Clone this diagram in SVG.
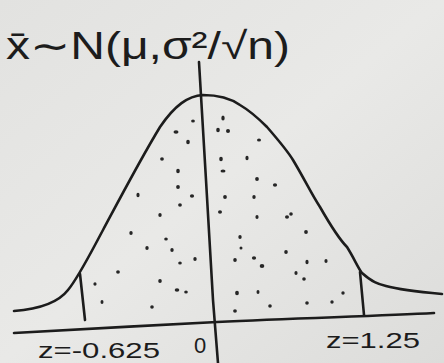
<svg xmlns="http://www.w3.org/2000/svg" width="444" height="363" viewBox="0 0 444 363">
<style>
.ink{fill:none;stroke:#1c1c1c;stroke-width:2.6;stroke-linecap:round;stroke-linejoin:round}
.lbl{font-family:"Liberation Sans","DejaVu Sans",sans-serif;fill:#1c1c1c}
.dot{fill:#262626}
</style>
<defs>
<linearGradient id="bg" x1="0" y1="0" x2="1" y2="1">
<stop offset="0" stop-color="#e2e2e0"/>
<stop offset="0.5" stop-color="#e9e9e7"/>
<stop offset="1" stop-color="#dcdcda"/>
</linearGradient>
</defs>
<rect width="444" height="363" fill="url(#bg)"/>
<g id="title">
<text class="lbl" x="6" y="59" font-size="38" textLength="284" lengthAdjust="spacingAndGlyphs">x̄∼N(μ,σ²/√n)</text>
</g>
<g id="curve">
<path class="ink" d="M14,311 C40,309 58,303 68,290 C78,278 88,258 103,230 C118,202 140,160 160,127 C175,105 188,96 203,95 C218,95 230,98 240,105 C252,112 260,120 267,127 C280,142 290,155 293,160 C305,180 312,195 320,207 C332,228 340,240 347,247 C354,258 358,268 362,273 C372,282 378,284 386,286 C400,290 420,292 442,294"/>
</g>
<g id="connectors">
<path class="ink" d="M199,62 L206,180 L213,300 L218,363"/>
<path class="ink" d="M80,274 L85,320"/>
<path class="ink" d="M360,272 L364,315"/>
<path class="ink" d="M14,333 C80,330 150,325 217,322 C300,318 380,316 434,313"/>
</g>
<g id="shading">
<g class="dot">
<ellipse cx="193" cy="121" rx="1.9" ry="1.6"/><ellipse cx="176" cy="132" rx="2.5" ry="1.7"/><ellipse cx="188" cy="142" rx="1.8" ry="2.3"/>
<ellipse cx="223" cy="118" rx="1.7" ry="2.5"/><ellipse cx="218" cy="130" rx="1.8" ry="2.3"/><ellipse cx="228" cy="131" rx="2" ry="2"/>
<ellipse cx="259" cy="140" rx="2" ry="1.5"/><ellipse cx="162" cy="159" rx="1.9" ry="1.7"/><ellipse cx="178" cy="171" rx="1.8" ry="2.3"/>
<ellipse cx="221" cy="159" rx="1.8" ry="2.3"/><ellipse cx="223" cy="171" rx="2.5" ry="1.6"/><ellipse cx="247" cy="158" rx="1.6" ry="2.2"/>
<ellipse cx="257" cy="179" rx="1.9" ry="1.9"/><ellipse cx="275" cy="185" rx="2.1" ry="1.7"/><ellipse cx="178" cy="187" rx="1.9" ry="1.9"/>
<ellipse cx="192" cy="196" rx="2.1" ry="1.8"/><ellipse cx="138" cy="195" rx="1.6" ry="2.2"/><ellipse cx="180" cy="205" rx="1.9" ry="1.8"/>
<ellipse cx="225" cy="197" rx="1.9" ry="1.9"/><ellipse cx="254" cy="197" rx="1.7" ry="2"/><ellipse cx="220" cy="212" rx="2" ry="1.7"/>
<ellipse cx="160" cy="215" rx="1.7" ry="2.1"/><ellipse cx="257" cy="217" rx="1.6" ry="1.9"/><ellipse cx="287" cy="217" rx="2" ry="1.8"/>
<ellipse cx="291" cy="214" rx="1.8" ry="1.8"/><ellipse cx="131" cy="233" rx="1.7" ry="2"/><ellipse cx="166" cy="239" rx="1.8" ry="1.5"/>
<ellipse cx="240" cy="237" rx="1.7" ry="2.1"/><ellipse cx="306" cy="232" rx="1.9" ry="2.1"/><ellipse cx="147" cy="248" rx="1.7" ry="1.9"/>
<ellipse cx="172" cy="250" rx="1.7" ry="2.1"/><ellipse cx="195" cy="259" rx="1.7" ry="2.1"/><ellipse cx="241" cy="248" rx="1.5" ry="1.5"/>
<ellipse cx="235" cy="260" rx="1.8" ry="2.1"/><ellipse cx="254" cy="258" rx="2.1" ry="1.7"/><ellipse cx="262" cy="266" rx="2.3" ry="2.1"/>
<ellipse cx="286" cy="252" rx="1.8" ry="2.1"/><ellipse cx="307" cy="262" rx="1.6" ry="2.2"/><ellipse cx="326" cy="261" rx="1.6" ry="1.9"/>
<ellipse cx="180" cy="263" rx="1.8" ry="1.6"/><ellipse cx="118" cy="272" rx="1.9" ry="1.7"/><ellipse cx="95" cy="284" rx="1.6" ry="1.8"/>
<ellipse cx="160" cy="281" rx="1.8" ry="1.9"/><ellipse cx="177" cy="290" rx="2.3" ry="1.8"/><ellipse cx="186" cy="292" rx="1.8" ry="1.6"/>
<ellipse cx="296" cy="273" rx="1.6" ry="2"/><ellipse cx="304" cy="279" rx="1.8" ry="1.7"/><ellipse cx="258" cy="292" rx="1.5" ry="1.9"/>
<ellipse cx="237" cy="293" rx="1.9" ry="2.3"/><ellipse cx="343" cy="293" rx="1.7" ry="1.8"/><ellipse cx="102" cy="302" rx="1.5" ry="2.1"/>
<ellipse cx="152" cy="307" rx="1.8" ry="1.7"/><ellipse cx="270" cy="306" rx="1.8" ry="1.8"/><ellipse cx="307" cy="303" rx="1.8" ry="1.7"/>
<ellipse cx="332" cy="302" rx="1.7" ry="1.7"/><ellipse cx="235" cy="311" rx="1.9" ry="1.8"/>
</g>
</g>
<g id="labels">
<text class="lbl" x="38" y="358" font-size="22" textLength="122" lengthAdjust="spacingAndGlyphs">z=-0.625</text>
<text class="lbl" x="194" y="353" font-size="22">0</text>
<text class="lbl" x="326" y="348" font-size="22" textLength="94" lengthAdjust="spacingAndGlyphs">z=1.25</text>
</g>
</svg>
